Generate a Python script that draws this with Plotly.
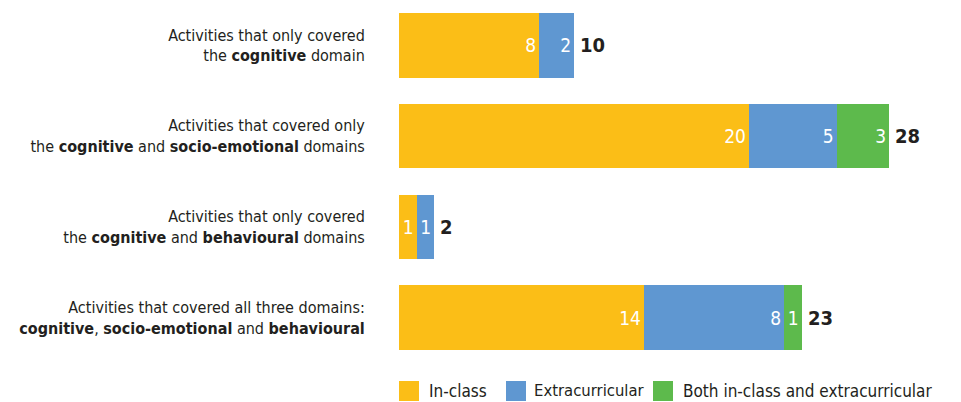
import plotly.graph_objects as go

categories = [
    "Activities that only covered<br>the <b>cognitive</b> domain",
    "Activities that covered only<br>the <b>cognitive</b> and <b>socio-emotional</b> domains",
    "Activities that only covered<br>the <b>cognitive</b> and <b>behavioural</b> domains",
    "Activities that covered all three domains:<br><b>cognitive</b>, <b>socio-emotional</b> and <b>behavioural</b>",
]
series_names = ["In-class", "Extracurricular", "Both in-class and extracurricular"]
in_class = [8, 20, 1, 14]
extracurricular = [2, 5, 1, 8]
both = [0, 3, 0, 1]
totals = [10, 28, 2, 23]

colors = ["#FBBE17", "#5F97D1", "#5DBA4C"]
FONT = "DejaVu Sans Condensed, Liberation Sans Narrow, sans-serif"

W, H = 961, 402
ML, MR, MT, MB = 399, 2, 0, 39
PW, PH = W - ML - MR, H - MT - MB

fig = go.Figure()
for name, vals, col in zip(series_names, [in_class, extracurricular, both], colors):
    fig.add_trace(go.Bar(
        y=categories, x=vals, orientation="h", name=name,
        marker=dict(color=col, line=dict(width=0)),
        text=[str(v) if v else "" for v in vals],
        textposition="inside", insidetextanchor="end",
        constraintext="none",
        textfont=dict(color="white", size=19, family=FONT),
        showlegend=False, hoverinfo="skip",
    ))

for cat, tot in zip(categories, totals):
    fig.add_annotation(x=tot, y=cat, text=f"<b>{tot}</b>", showarrow=False,
                       xanchor="left", xshift=4,
                       font=dict(size=20, color="#231F20", family=FONT))

# legend (manual, layout decoration)
def px_x(p):
    return (p - ML) / PW

def px_y(p):
    return (MT + PH - p) / PH

legend_items = [(399, 427), (506, 532), (653, 681)]
legend_sizes = [17, 16.5, 17]
for (sx, tx), name, col, fs in zip(legend_items, series_names, colors, legend_sizes):
    fig.add_shape(type="rect", xref="paper", yref="paper",
                  x0=px_x(sx), x1=px_x(sx + 20), y0=px_y(401), y1=px_y(381),
                  fillcolor=col, line=dict(width=0))
    fig.add_annotation(xref="paper", yref="paper", x=px_x(tx), y=px_y(391),
                       text=name, showarrow=False, xanchor="left", yanchor="middle",
                       font=dict(size=fs, color="#231F20", family=FONT))

fig.update_layout(
    width=W, height=H,
    margin=dict(l=ML, r=MR, t=MT, b=MB, autoexpand=False),
    barmode="stack", bargap=0.29,
    plot_bgcolor="white", paper_bgcolor="white",
    font=dict(family=FONT, color="#231F20"),
    xaxis=dict(range=[0, 32], visible=False, fixedrange=True, automargin=False),
    yaxis=dict(autorange="reversed", showgrid=False, zeroline=False, showline=False,
               automargin=False,
               ticks="outside", ticklen=30, tickcolor="rgba(0,0,0,0)",
               tickfont=dict(size=16, color="#231F20", family=FONT)),
)

fig.write_html("out.html", config={"displayModeBar": False},
               post_script="document.body.style.margin='0';document.body.style.overflow='hidden';")
